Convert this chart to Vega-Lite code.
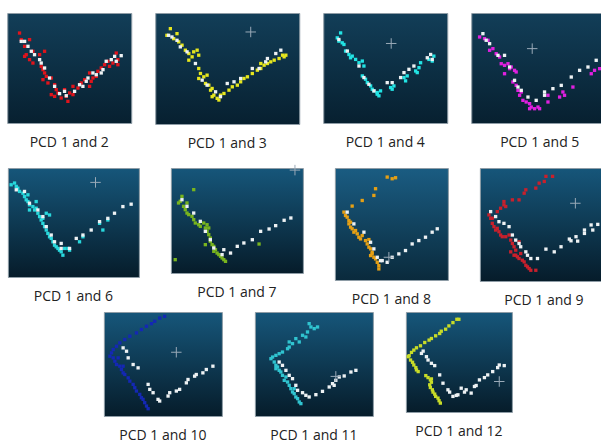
{
"$schema":"https://vega.github.io/schema/vega-lite/v6.json",
"padding":{"left":6,"top":12,"right":0,"bottom":0},
"background":"white",
"config":{"view":{"stroke":"#8e9ca6"},"title":{"orient":"bottom","anchor":"middle","fontSize":14,"font":"Open Sans","fontWeight":"normal","color":"#222222","offset":13}},
"datasets":{
"cr":[{"p":2,"x":66.3,"y":82.9},{"p":3,"x":54.8,"y":72.3},{"p":4,"x":44.5,"y":67.6},{"p":5,"x":66.9,"y":86.8},{"p":6,"x":94,"y":98},{"p":7,"x":47.8,"y":20.3},{"p":8,"x":74.6,"y":68.8},{"p":9,"x":61.4,"y":61.3},{"p":10,"x":68.6,"y":38.1},{"p":11,"x":88.1,"y":30.5}],
"pts":[
{"p":1,"k":"c","x":9.9,"y":81.8},{"p":1,"k":"c","x":11.3,"y":75.8},{"p":1,"k":"c","x":18,"y":75.8},{"p":1,"k":"c","x":14,"y":69.7},{"p":1,"k":"c","x":15.3,"y":62.1},{"p":1,"k":"c","x":14,"y":60.6},{"p":1,"k":"c","x":20.7,"y":65.2},{"p":1,"k":"c","x":30.1,"y":65.2},{"p":1,"k":"c","x":26.1,"y":62.1},{"p":1,"k":"c","x":18,"y":57.6},{"p":1,"k":"c","x":20.7,"y":54.5},{"p":1,"k":"c","x":27.4,"y":51.5},{"p":1,"k":"c","x":28.8,"y":48.5},{"p":1,"k":"c","x":30.1,"y":45.5},{"p":1,"k":"c","x":31.5,"y":42.4},{"p":1,"k":"c","x":28.8,"y":39.4},{"p":1,"k":"c","x":35.5,"y":40.9},{"p":1,"k":"c","x":32.8,"y":36.4},{"p":1,"k":"c","x":38.2,"y":34.8},{"p":1,"k":"c","x":39.5,"y":30.3},{"p":1,"k":"c","x":35.5,"y":25.8},{"p":1,"k":"c","x":38.2,"y":24.2},{"p":1,"k":"c","x":40.9,"y":27.3},{"p":1,"k":"c","x":43.5,"y":22.7},{"p":1,"k":"c","x":47.6,"y":24.2},{"p":1,"k":"c","x":48.9,"y":19.7},{"p":1,"k":"c","x":50.3,"y":27.3},{"p":1,"k":"c","x":53,"y":33.3},{"p":1,"k":"c","x":57,"y":31.8},{"p":1,"k":"c","x":59.7,"y":36.4},{"p":1,"k":"c","x":62.4,"y":39.4},{"p":1,"k":"c","x":66.4,"y":33.3},{"p":1,"k":"c","x":67.7,"y":37.9},{"p":1,"k":"c","x":71.8,"y":42.4},{"p":1,"k":"c","x":73.1,"y":47},{"p":1,"k":"c","x":75.8,"y":50},{"p":1,"k":"c","x":78.5,"y":53},{"p":1,"k":"c","x":82.5,"y":51.5},{"p":1,"k":"c","x":81.2,"y":56.1},{"p":1,"k":"c","x":85.2,"y":54.5},{"p":1,"k":"c","x":87.9,"y":63.6},{"p":1,"k":"c","x":89.2,"y":57.6},{"p":1,"k":"c","x":89.2,"y":53},{"p":1,"k":"c","x":66.4,"y":45.5},{"p":1,"k":"c","x":69.1,"y":40.9},{"p":1,"k":"c","x":53,"y":25.8},{"p":1,"k":"c","x":46.2,"y":30.3},
{"p":1,"k":"w","x":11.3,"y":74.2},{"p":1,"k":"w","x":14,"y":74.2},{"p":1,"k":"w","x":16.7,"y":69.7},{"p":1,"k":"w","x":19.4,"y":65.2},{"p":1,"k":"w","x":22,"y":62.1},{"p":1,"k":"w","x":26.1,"y":57.6},{"p":1,"k":"w","x":27.4,"y":54.5},{"p":1,"k":"w","x":30.1,"y":50},{"p":1,"k":"w","x":34.1,"y":40.9},{"p":1,"k":"w","x":38.2,"y":33.3},{"p":1,"k":"w","x":42.2,"y":26.7},{"p":1,"k":"w","x":46.2,"y":28.8},{"p":1,"k":"w","x":47.6,"y":24.8},{"p":1,"k":"w","x":54.3,"y":28.8},{"p":1,"k":"w","x":58.3,"y":34.8},{"p":1,"k":"w","x":61,"y":33.3},{"p":1,"k":"w","x":63.7,"y":37.9},{"p":1,"k":"w","x":65.1,"y":40.9},{"p":1,"k":"w","x":69.1,"y":45.5},{"p":1,"k":"w","x":71.8,"y":43.9},{"p":1,"k":"w","x":75.8,"y":45.5},{"p":1,"k":"w","x":77.2,"y":48.5},{"p":1,"k":"w","x":79.8,"y":56.1},{"p":1,"k":"w","x":83.9,"y":57.6},{"p":1,"k":"w","x":87.9,"y":56.1},{"p":1,"k":"w","x":91.9,"y":61.2},{"p":1,"k":"w","x":86.6,"y":60.6},
{"p":2,"k":"c","x":10.5,"y":85.9},{"p":2,"k":"c","x":8.1,"y":79.9},{"p":2,"k":"c","x":12.8,"y":76.9},{"p":2,"k":"c","x":15.1,"y":81.4},{"p":2,"k":"c","x":16.3,"y":74},{"p":2,"k":"c","x":18.6,"y":71},{"p":2,"k":"c","x":20.9,"y":66.5},{"p":2,"k":"c","x":23.3,"y":63.5},{"p":2,"k":"c","x":25.6,"y":60.5},{"p":2,"k":"c","x":26.7,"y":65},{"p":2,"k":"c","x":29.1,"y":66.5},{"p":2,"k":"c","x":30.2,"y":62},{"p":2,"k":"c","x":23.3,"y":57.5},{"p":2,"k":"c","x":30.2,"y":50},{"p":2,"k":"c","x":31.4,"y":45.5},{"p":2,"k":"c","x":30.2,"y":41},{"p":2,"k":"c","x":33.7,"y":42.5},{"p":2,"k":"c","x":36,"y":44},{"p":2,"k":"c","x":34.9,"y":36.5},{"p":2,"k":"c","x":37.2,"y":35},{"p":2,"k":"c","x":38.4,"y":30.5},{"p":2,"k":"c","x":39.5,"y":32},{"p":2,"k":"c","x":40.7,"y":26},{"p":2,"k":"c","x":39.5,"y":24.6},{"p":2,"k":"c","x":43,"y":23.1},{"p":2,"k":"c","x":44.2,"y":21.6},{"p":2,"k":"c","x":45.3,"y":26},{"p":2,"k":"c","x":47.7,"y":27.5},{"p":2,"k":"c","x":51.2,"y":30.5},{"p":2,"k":"c","x":53.5,"y":33.5},{"p":2,"k":"c","x":57,"y":35},{"p":2,"k":"c","x":59.3,"y":38},{"p":2,"k":"c","x":61.6,"y":41},{"p":2,"k":"c","x":64,"y":42.5},{"p":2,"k":"c","x":67.4,"y":45.5},{"p":2,"k":"c","x":70.9,"y":48.5},{"p":2,"k":"c","x":73.3,"y":50},{"p":2,"k":"c","x":75.6,"y":53},{"p":2,"k":"c","x":77.9,"y":54.5},{"p":2,"k":"c","x":80.2,"y":56},{"p":2,"k":"c","x":82.6,"y":57.5},{"p":2,"k":"c","x":86,"y":59},{"p":2,"k":"c","x":89.5,"y":60.5},{"p":2,"k":"c","x":90.7,"y":62},{"p":2,"k":"c","x":88.4,"y":62},{"p":2,"k":"c","x":73.3,"y":54.5},
{"p":2,"k":"w","x":9.3,"y":79.9},{"p":2,"k":"w","x":11.6,"y":78.4},{"p":2,"k":"w","x":15.1,"y":75.4},{"p":2,"k":"w","x":17.4,"y":69.5},{"p":2,"k":"w","x":22.1,"y":65},{"p":2,"k":"w","x":27.9,"y":54.5},{"p":2,"k":"w","x":32.6,"y":39.5},{"p":2,"k":"w","x":36,"y":35},{"p":2,"k":"w","x":41.9,"y":29},{"p":2,"k":"w","x":45.3,"y":24.6},{"p":2,"k":"w","x":50,"y":36.5},{"p":2,"k":"w","x":54.7,"y":38},{"p":2,"k":"w","x":59.3,"y":41},{"p":2,"k":"w","x":67.4,"y":50},{"p":2,"k":"w","x":72.1,"y":50},{"p":2,"k":"w","x":76.7,"y":56},{"p":2,"k":"w","x":83.7,"y":63.5},{"p":2,"k":"w","x":87.2,"y":66.5},{"p":2,"k":"w","x":77.9,"y":59},
{"p":3,"k":"c","x":11.3,"y":77.4},{"p":3,"k":"c","x":12.6,"y":74.4},{"p":3,"k":"c","x":15.3,"y":72.9},{"p":3,"k":"c","x":16.7,"y":71.4},{"p":3,"k":"c","x":14,"y":81.9},{"p":3,"k":"c","x":18,"y":65.4},{"p":3,"k":"c","x":20.7,"y":62.3},{"p":3,"k":"c","x":23.4,"y":60.8},{"p":3,"k":"c","x":22,"y":59.3},{"p":3,"k":"c","x":26.1,"y":57.8},{"p":3,"k":"c","x":28.8,"y":54.8},{"p":3,"k":"c","x":31.5,"y":56.3},{"p":3,"k":"c","x":32.8,"y":51.8},{"p":3,"k":"c","x":31.5,"y":42.8},{"p":3,"k":"c","x":34.1,"y":39.8},{"p":3,"k":"c","x":35.5,"y":36.7},{"p":3,"k":"c","x":38.2,"y":33.7},{"p":3,"k":"c","x":39.5,"y":30.7},{"p":3,"k":"c","x":40.9,"y":29.2},{"p":3,"k":"c","x":43.5,"y":27.7},{"p":3,"k":"c","x":44.9,"y":24.7},{"p":3,"k":"c","x":46.2,"y":29.2},{"p":3,"k":"c","x":54.3,"y":32.2},{"p":3,"k":"c","x":57,"y":33.7},{"p":3,"k":"c","x":55.6,"y":30.7},{"p":3,"k":"c","x":65.1,"y":41.3},{"p":3,"k":"c","x":67.7,"y":42.8},{"p":3,"k":"c","x":66.4,"y":38.3},{"p":3,"k":"c","x":74.5,"y":47.3},{"p":3,"k":"c","x":77.2,"y":50.3},{"p":3,"k":"c","x":78.5,"y":54.8},{"p":3,"k":"c","x":75.8,"y":45.8},{"p":3,"k":"c","x":85.2,"y":57.8},{"p":3,"k":"c","x":87.9,"y":56.3},{"p":3,"k":"c","x":89.2,"y":60.8},{"p":3,"k":"c","x":43.5,"y":26.2},
{"p":3,"k":"w","x":12.6,"y":75.9},{"p":3,"k":"w","x":19.4,"y":65.4},{"p":3,"k":"w","x":28.8,"y":51.8},{"p":3,"k":"w","x":32.8,"y":41.3},{"p":3,"k":"w","x":36.8,"y":35.2},{"p":3,"k":"w","x":40.9,"y":29.2},{"p":3,"k":"w","x":51.6,"y":36.7},{"p":3,"k":"w","x":55.6,"y":36.7},{"p":3,"k":"w","x":62.4,"y":41.3},{"p":3,"k":"w","x":65.1,"y":45.8},{"p":3,"k":"w","x":69.1,"y":48.8},{"p":3,"k":"w","x":73.1,"y":51.8},{"p":3,"k":"w","x":83.9,"y":59.3},{"p":3,"k":"w","x":86.6,"y":62.3},{"p":3,"k":"w","x":87.9,"y":57.8},
{"p":4,"k":"c","x":6.1,"y":78.2},{"p":4,"k":"c","x":9.7,"y":76.7},{"p":4,"k":"c","x":12.2,"y":75.2},{"p":4,"k":"c","x":13.4,"y":66.1},{"p":4,"k":"c","x":15.8,"y":67.6},{"p":4,"k":"c","x":18.2,"y":63},{"p":4,"k":"c","x":20.7,"y":60},{"p":4,"k":"c","x":21.9,"y":53.9},{"p":4,"k":"c","x":24.3,"y":52.4},{"p":4,"k":"c","x":26.8,"y":53.9},{"p":4,"k":"c","x":28,"y":49.4},{"p":4,"k":"c","x":29.2,"y":50.9},{"p":4,"k":"c","x":31.6,"y":47.9},{"p":4,"k":"c","x":32.8,"y":46.4},{"p":4,"k":"c","x":24.3,"y":44.8},{"p":4,"k":"c","x":30.4,"y":37.3},{"p":4,"k":"c","x":32.8,"y":34.2},{"p":4,"k":"c","x":34.1,"y":29.7},{"p":4,"k":"c","x":36.5,"y":28.2},{"p":4,"k":"c","x":35.3,"y":25.2},{"p":4,"k":"c","x":37.7,"y":20.6},{"p":4,"k":"c","x":40.1,"y":19.1},{"p":4,"k":"c","x":42.6,"y":17.6},{"p":4,"k":"c","x":43.8,"y":14.5},{"p":4,"k":"c","x":46.2,"y":13},{"p":4,"k":"c","x":48.7,"y":14.5},{"p":4,"k":"c","x":49.9,"y":13},{"p":4,"k":"c","x":42.6,"y":13},{"p":4,"k":"c","x":56,"y":19.1},{"p":4,"k":"c","x":64.5,"y":23.6},{"p":4,"k":"c","x":66.9,"y":28.2},{"p":4,"k":"c","x":68.1,"y":25.2},{"p":4,"k":"c","x":74.2,"y":32.7},{"p":4,"k":"c","x":87.6,"y":44.8},{"p":4,"k":"c","x":90,"y":47.9},{"p":4,"k":"c","x":93.7,"y":49.4},{"p":4,"k":"c","x":98.5,"y":50.9},{"p":4,"k":"c","x":56,"y":25.2},
{"p":4,"k":"w","x":8.5,"y":81.2},{"p":4,"k":"w","x":10.9,"y":75.2},{"p":4,"k":"w","x":13.4,"y":72.1},{"p":4,"k":"w","x":19.5,"y":61.5},{"p":4,"k":"w","x":24.3,"y":61.5},{"p":4,"k":"w","x":28,"y":50.9},{"p":4,"k":"w","x":31.6,"y":38.8},{"p":4,"k":"w","x":34.1,"y":32.7},{"p":4,"k":"w","x":36.5,"y":29.7},{"p":4,"k":"w","x":41.4,"y":23.6},{"p":4,"k":"w","x":47.4,"y":20.6},{"p":4,"k":"w","x":53.5,"y":28.2},{"p":4,"k":"w","x":59.6,"y":31.2},{"p":4,"k":"w","x":65.7,"y":34.2},{"p":4,"k":"w","x":73,"y":41.8},{"p":4,"k":"w","x":79.1,"y":47.9},{"p":4,"k":"w","x":85.2,"y":50.9},{"p":4,"k":"w","x":91.2,"y":57},{"p":4,"k":"w","x":97.3,"y":61.5},{"p":4,"k":"w","x":53.5,"y":25.2},
{"p":5,"k":"c","x":2.5,"y":84.6},{"p":5,"k":"c","x":5.1,"y":86.2},{"p":5,"k":"c","x":6.4,"y":83.1},{"p":5,"k":"c","x":7.6,"y":81.5},{"p":5,"k":"c","x":8.9,"y":78.5},{"p":5,"k":"c","x":11.5,"y":76.9},{"p":5,"k":"c","x":12.7,"y":73.8},{"p":5,"k":"c","x":14,"y":70.8},{"p":5,"k":"c","x":15.3,"y":69.2},{"p":5,"k":"c","x":16.5,"y":66.2},{"p":5,"k":"c","x":19.1,"y":64.6},{"p":5,"k":"c","x":20.4,"y":61.5},{"p":5,"k":"c","x":21.6,"y":63.1},{"p":5,"k":"c","x":16.5,"y":61.5},{"p":5,"k":"c","x":22.9,"y":58.5},{"p":5,"k":"c","x":24.2,"y":55.4},{"p":5,"k":"c","x":25.4,"y":52.3},{"p":5,"k":"c","x":26.7,"y":49.2},{"p":5,"k":"c","x":28,"y":46.2},{"p":5,"k":"c","x":29.3,"y":43.1},{"p":5,"k":"c","x":30.5,"y":40},{"p":5,"k":"c","x":31.8,"y":36.9},{"p":5,"k":"c","x":33.1,"y":35.4},{"p":5,"k":"c","x":34.4,"y":32.3},{"p":5,"k":"c","x":35.6,"y":29.2},{"p":5,"k":"c","x":36.9,"y":27.7},{"p":5,"k":"c","x":38.2,"y":26.2},{"p":5,"k":"c","x":39.4,"y":24.6},{"p":5,"k":"c","x":40.7,"y":23.1},{"p":5,"k":"c","x":42,"y":20},{"p":5,"k":"c","x":43.3,"y":26.2},{"p":5,"k":"c","x":45.8,"y":26.2},{"p":5,"k":"c","x":29.3,"y":58.5},{"p":5,"k":"c","x":31.8,"y":56.9},{"p":5,"k":"c","x":26.7,"y":53.8},{"p":5,"k":"c","x":54.7,"y":32.3},{"p":5,"k":"c","x":57.3,"y":36.9},{"p":5,"k":"c","x":72.5,"y":43.1},{"p":5,"k":"c","x":76.3,"y":52.3},{"p":5,"k":"c","x":70,"y":49.2},{"p":5,"k":"c","x":21.6,"y":69.2},{"p":5,"k":"c","x":15.3,"y":75.4},{"p":5,"k":"c","x":47.1,"y":24.6},
{"p":5,"k":"w","x":6.4,"y":80},{"p":5,"k":"w","x":12.7,"y":78.5},{"p":5,"k":"w","x":16.5,"y":67.7},{"p":5,"k":"w","x":22.9,"y":61.5},{"p":5,"k":"w","x":26.7,"y":55.4},{"p":5,"k":"w","x":29.3,"y":46.2},{"p":5,"k":"w","x":33.1,"y":38.5},{"p":5,"k":"w","x":35.6,"y":32.3},{"p":5,"k":"w","x":40.7,"y":30.8},{"p":5,"k":"w","x":47.1,"y":26.2},{"p":5,"k":"w","x":52.2,"y":35.4},{"p":5,"k":"w","x":57.3,"y":38.5},{"p":5,"k":"w","x":63.6,"y":43.1},{"p":5,"k":"w","x":70,"y":50.8},{"p":5,"k":"w","x":76.3,"y":53.8},{"p":5,"k":"w","x":81.4,"y":58.5},{"p":5,"k":"w","x":87.8,"y":64.6},{"p":5,"k":"w","x":94.1,"y":66.8},{"p":5,"k":"w","x":40.7,"y":26.2},
{"p":6,"k":"c","x":8.4,"y":73},{"p":6,"k":"c","x":7.1,"y":68.3},{"p":6,"k":"c","x":5.8,"y":66.7},{"p":6,"k":"c","x":9.6,"y":63.5},{"p":6,"k":"c","x":10.9,"y":60.3},{"p":6,"k":"c","x":12.2,"y":57.1},{"p":6,"k":"c","x":13.5,"y":55.6},{"p":6,"k":"c","x":16,"y":54},{"p":6,"k":"c","x":17.3,"y":50.8},{"p":6,"k":"c","x":18.5,"y":47.6},{"p":6,"k":"c","x":21.1,"y":46},{"p":6,"k":"c","x":22.3,"y":44.4},{"p":6,"k":"c","x":24.9,"y":47.6},{"p":6,"k":"c","x":26.1,"y":42.9},{"p":6,"k":"c","x":27.4,"y":39.7},{"p":6,"k":"c","x":28.7,"y":36.5},{"p":6,"k":"c","x":29.9,"y":33.3},{"p":6,"k":"c","x":29.9,"y":30.2},{"p":6,"k":"c","x":31.2,"y":27},{"p":6,"k":"c","x":32.5,"y":25.4},{"p":6,"k":"c","x":33.8,"y":22.2},{"p":6,"k":"c","x":35,"y":19},{"p":6,"k":"c","x":36.3,"y":17.5},{"p":6,"k":"c","x":37.6,"y":15.9},{"p":6,"k":"c","x":38.8,"y":14.3},{"p":6,"k":"c","x":40.1,"y":12.7},{"p":6,"k":"c","x":41.4,"y":11.1},{"p":6,"k":"c","x":27.4,"y":46},{"p":6,"k":"c","x":28.7,"y":42.9},{"p":6,"k":"c","x":12.2,"y":66.7},{"p":6,"k":"c","x":17.3,"y":79.4},{"p":6,"k":"c","x":3.3,"y":12.7},{"p":6,"k":"c","x":66.8,"y":27.6},{"p":6,"k":"c","x":26.1,"y":27},{"p":6,"k":"c","x":32.5,"y":20.6},
{"p":6,"k":"w","x":8.4,"y":69.8},{"p":6,"k":"w","x":12.2,"y":63.5},{"p":6,"k":"w","x":17.3,"y":57.1},{"p":6,"k":"w","x":22.3,"y":49.2},{"p":6,"k":"w","x":26.1,"y":39.7},{"p":6,"k":"w","x":29.9,"y":31.7},{"p":6,"k":"w","x":32.5,"y":23.8},{"p":6,"k":"w","x":40.1,"y":22.2},{"p":6,"k":"w","x":45.2,"y":19},{"p":6,"k":"w","x":50.3,"y":25.4},{"p":6,"k":"w","x":55.3,"y":28.6},{"p":6,"k":"w","x":61.7,"y":31.7},{"p":6,"k":"w","x":68,"y":39.7},{"p":6,"k":"w","x":74.4,"y":41.9},{"p":6,"k":"w","x":79.4,"y":45.1},{"p":6,"k":"w","x":85.8,"y":50.2},{"p":6,"k":"w","x":90.9,"y":52.4},{"p":6,"k":"w","x":38.8,"y":17.5},
{"p":7,"k":"c","x":8,"y":60.6},{"p":7,"k":"c","x":9.4,"y":57.6},{"p":7,"k":"c","x":10.9,"y":56.1},{"p":7,"k":"c","x":12.4,"y":53.1},{"p":7,"k":"c","x":12.4,"y":50.1},{"p":7,"k":"c","x":13.9,"y":47.2},{"p":7,"k":"c","x":15.3,"y":45.7},{"p":7,"k":"c","x":16.8,"y":42.7},{"p":7,"k":"c","x":18.3,"y":44.2},{"p":7,"k":"c","x":19.8,"y":41.2},{"p":7,"k":"c","x":21.2,"y":38.2},{"p":7,"k":"c","x":22.7,"y":36.7},{"p":7,"k":"c","x":27.1,"y":35.2},{"p":7,"k":"c","x":28.6,"y":32.2},{"p":7,"k":"c","x":30.1,"y":29.3},{"p":7,"k":"c","x":31.6,"y":27.8},{"p":7,"k":"c","x":33,"y":24.8},{"p":7,"k":"c","x":31.6,"y":21.8},{"p":7,"k":"c","x":34.5,"y":20.3},{"p":7,"k":"c","x":36,"y":18.8},{"p":7,"k":"c","x":37.5,"y":15.8},{"p":7,"k":"c","x":38.9,"y":12.8},{"p":7,"k":"c","x":38.9,"y":9.9},{"p":7,"k":"c","x":13.9,"y":51.6},{"p":7,"k":"c","x":24.2,"y":39.7},{"p":7,"k":"c","x":30.1,"y":36.1},{"p":7,"k":"c","x":33,"y":23.3},{"p":7,"k":"c","x":46.3,"y":91.9},{"p":7,"k":"c","x":50.7,"y":90.4},{"p":7,"k":"c","x":53.7,"y":91.3},{"p":7,"k":"c","x":36,"y":81.5},{"p":7,"k":"c","x":34.5,"y":75.5},{"p":7,"k":"c","x":24.2,"y":71},{"p":7,"k":"c","x":15.3,"y":66},
{"p":7,"k":"w","x":10.9,"y":60.6},{"p":7,"k":"w","x":16.8,"y":50.1},{"p":7,"k":"w","x":25.7,"y":42.7},{"p":7,"k":"w","x":31.6,"y":33.7},{"p":7,"k":"w","x":34.5,"y":27.8},{"p":7,"k":"w","x":37.5,"y":20.3},{"p":7,"k":"w","x":41.9,"y":17.3},{"p":7,"k":"w","x":46.3,"y":15.8},{"p":7,"k":"w","x":50.7,"y":20.3},{"p":7,"k":"w","x":56.6,"y":23.3},{"p":7,"k":"w","x":62.5,"y":26.3},{"p":7,"k":"w","x":68.4,"y":32.2},{"p":7,"k":"w","x":74.3,"y":35.2},{"p":7,"k":"w","x":80.2,"y":38.2},{"p":7,"k":"w","x":86.1,"y":42.7},{"p":7,"k":"w","x":90.6,"y":45.7},{"p":7,"k":"w","x":40.4,"y":17.3},
{"p":8,"k":"c","x":7.1,"y":58.5},{"p":8,"k":"c","x":8.4,"y":55.5},{"p":8,"k":"c","x":9.7,"y":51},{"p":8,"k":"c","x":11,"y":48.1},{"p":8,"k":"c","x":12.3,"y":45.1},{"p":8,"k":"c","x":14.9,"y":43.6},{"p":8,"k":"c","x":16.2,"y":40.7},{"p":8,"k":"c","x":17.5,"y":39.2},{"p":8,"k":"c","x":20.2,"y":39.2},{"p":8,"k":"c","x":22.8,"y":40.7},{"p":8,"k":"c","x":24.1,"y":36.2},{"p":8,"k":"c","x":25.4,"y":33.2},{"p":8,"k":"c","x":26.7,"y":30.3},{"p":8,"k":"c","x":28,"y":27.3},{"p":8,"k":"c","x":28,"y":22.8},{"p":8,"k":"c","x":29.3,"y":21.4},{"p":8,"k":"c","x":30.6,"y":19.9},{"p":8,"k":"c","x":33.2,"y":18.4},{"p":8,"k":"c","x":34.6,"y":16.9},{"p":8,"k":"c","x":35.9,"y":13.9},{"p":8,"k":"c","x":37.2,"y":12.5},{"p":8,"k":"c","x":38.5,"y":11},{"p":8,"k":"c","x":39.8,"y":9.5},{"p":8,"k":"c","x":43.7,"y":9.5},{"p":8,"k":"c","x":31.9,"y":24.3},{"p":8,"k":"c","x":24.1,"y":25.8},{"p":8,"k":"c","x":26.7,"y":22.8},{"p":8,"k":"c","x":30.6,"y":34.7},{"p":8,"k":"c","x":9.7,"y":55.5},{"p":8,"k":"c","x":13.6,"y":46.6},{"p":8,"k":"c","x":13.6,"y":61.4},{"p":8,"k":"c","x":16.2,"y":64.4},{"p":8,"k":"c","x":18.8,"y":70.3},{"p":8,"k":"c","x":20.2,"y":65.9},{"p":8,"k":"c","x":25.4,"y":71.8},{"p":8,"k":"c","x":30.6,"y":71.8},{"p":8,"k":"c","x":34.6,"y":77.7},{"p":8,"k":"c","x":35.9,"y":80.7},{"p":8,"k":"c","x":43.7,"y":82.2},{"p":8,"k":"c","x":46.3,"y":86.6},{"p":8,"k":"c","x":50.3,"y":88.1},{"p":8,"k":"c","x":51.6,"y":92.6},{"p":8,"k":"c","x":56.8,"y":92.6},{"p":8,"k":"c","x":18.8,"y":67.4},
{"p":8,"k":"w","x":8.4,"y":61.4},{"p":8,"k":"w","x":12.3,"y":57},{"p":8,"k":"w","x":14.9,"y":52.5},{"p":8,"k":"w","x":18.8,"y":51},{"p":8,"k":"w","x":22.8,"y":48.1},{"p":8,"k":"w","x":25.4,"y":40.7},{"p":8,"k":"w","x":28,"y":36.2},{"p":8,"k":"w","x":30.6,"y":33.2},{"p":8,"k":"w","x":31.9,"y":30.3},{"p":8,"k":"w","x":35.9,"y":25.8},{"p":8,"k":"w","x":37.2,"y":22.8},{"p":8,"k":"w","x":39.8,"y":19.9},{"p":8,"k":"w","x":45,"y":19.9},{"p":8,"k":"w","x":51.6,"y":28.2},{"p":8,"k":"w","x":58.1,"y":25.8},{"p":8,"k":"w","x":63.4,"y":30.3},{"p":8,"k":"w","x":69.9,"y":37.1},{"p":8,"k":"w","x":75.1,"y":39.2},{"p":8,"k":"w","x":81.7,"y":45.1},{"p":8,"k":"w","x":86.9,"y":49.6},{"p":8,"k":"w","x":92.1,"y":50.1},{"p":8,"k":"w","x":71.2,"y":35.6},{"p":8,"k":"w","x":76.4,"y":35.3},{"p":8,"k":"w","x":81.7,"y":42.1},{"p":8,"k":"w","x":88.2,"y":45.1},
{"p":9,"k":"c","x":51.5,"y":95.8},{"p":9,"k":"c","x":47.3,"y":94.2},{"p":9,"k":"c","x":43.1,"y":91.1},{"p":9,"k":"c","x":40.3,"y":88.8},{"p":9,"k":"c","x":36.1,"y":86.3},{"p":9,"k":"c","x":31.8,"y":83.1},{"p":9,"k":"c","x":27.6,"y":79.9},{"p":9,"k":"c","x":22,"y":76.7},{"p":9,"k":"c","x":17.7,"y":73.5},{"p":9,"k":"c","x":13.5,"y":70.3},{"p":9,"k":"c","x":10.7,"y":67.1},{"p":9,"k":"c","x":7.9,"y":63.9},{"p":9,"k":"c","x":6.5,"y":60.7},{"p":9,"k":"c","x":5.1,"y":57.5},{"p":9,"k":"c","x":7.9,"y":55.9},{"p":9,"k":"c","x":9.3,"y":52.7},{"p":9,"k":"c","x":10.7,"y":49.5},{"p":9,"k":"c","x":13.5,"y":47.9},{"p":9,"k":"c","x":14.9,"y":44.7},{"p":9,"k":"c","x":16.3,"y":41.5},{"p":9,"k":"c","x":17.7,"y":39.9},{"p":9,"k":"c","x":20.6,"y":36.7},{"p":9,"k":"c","x":22,"y":33.5},{"p":9,"k":"c","x":24.8,"y":30.4},{"p":9,"k":"c","x":26.2,"y":27.2},{"p":9,"k":"c","x":27.6,"y":24},{"p":9,"k":"c","x":30.4,"y":20.8},{"p":9,"k":"c","x":31.8,"y":17.6},{"p":9,"k":"c","x":33.2,"y":16},{"p":9,"k":"c","x":34.6,"y":12.8},{"p":9,"k":"c","x":36.1,"y":9.6},{"p":9,"k":"c","x":37.5,"y":7},{"p":9,"k":"c","x":12.1,"y":55.9},{"p":9,"k":"c","x":16.3,"y":47.9},
{"p":9,"k":"w","x":16.3,"y":65.5},{"p":9,"k":"w","x":19.2,"y":62.3},{"p":9,"k":"w","x":20.6,"y":55.9},{"p":9,"k":"w","x":24.8,"y":49.5},{"p":9,"k":"w","x":29,"y":46.3},{"p":9,"k":"w","x":37.5,"y":30.4},{"p":9,"k":"w","x":38.9,"y":25.6},{"p":9,"k":"w","x":41.7,"y":22.4},{"p":9,"k":"w","x":45.9,"y":16},{"p":9,"k":"w","x":47.3,"y":14.4},{"p":9,"k":"w","x":54.4,"y":19.2},{"p":9,"k":"w","x":55.8,"y":22.4},{"p":9,"k":"w","x":61.4,"y":24},{"p":9,"k":"w","x":64.2,"y":25.6},{"p":9,"k":"w","x":69.9,"y":31.9},{"p":9,"k":"w","x":71.3,"y":35.1},{"p":9,"k":"w","x":76.9,"y":38.3},{"p":9,"k":"w","x":78.3,"y":39.9},{"p":9,"k":"w","x":83.9,"y":41.5},{"p":9,"k":"w","x":86.8,"y":44.7},{"p":9,"k":"w","x":92.4,"y":47.9},
{"p":10,"k":"c","x":46,"y":88.8},{"p":10,"k":"c","x":47.5,"y":85.6},{"p":10,"k":"c","x":50.3,"y":84},{"p":10,"k":"c","x":53.1,"y":85.6},{"p":10,"k":"c","x":44.6,"y":80.8},{"p":10,"k":"c","x":40.4,"y":77.6},{"p":10,"k":"c","x":43.2,"y":76},{"p":10,"k":"c","x":34.7,"y":74.4},{"p":10,"k":"c","x":37.6,"y":71.2},{"p":10,"k":"c","x":31.9,"y":69.6},{"p":10,"k":"c","x":29.1,"y":66.3},{"p":10,"k":"c","x":27.7,"y":64.7},{"p":10,"k":"c","x":23.4,"y":61.5},{"p":10,"k":"c","x":20.6,"y":59.9},{"p":10,"k":"c","x":17.8,"y":58.3},{"p":10,"k":"c","x":15,"y":56.7},{"p":10,"k":"c","x":13.6,"y":55.1},{"p":10,"k":"c","x":29.1,"y":71.2},{"p":10,"k":"c","x":16.4,"y":51.9},{"p":10,"k":"c","x":17.8,"y":48.7},{"p":10,"k":"c","x":19.2,"y":47.1},{"p":10,"k":"c","x":17.8,"y":45.5},{"p":10,"k":"c","x":22,"y":42.3},{"p":10,"k":"c","x":23.4,"y":39.1},{"p":10,"k":"c","x":26.3,"y":37.5},{"p":10,"k":"c","x":24.9,"y":34.3},{"p":10,"k":"c","x":27.7,"y":32.7},{"p":10,"k":"c","x":29.1,"y":29.5},{"p":10,"k":"c","x":30.5,"y":26.3},{"p":10,"k":"c","x":31.9,"y":23.1},{"p":10,"k":"c","x":33.3,"y":21.5},{"p":10,"k":"c","x":34.7,"y":18.3},{"p":10,"k":"c","x":36.2,"y":16.7},{"p":10,"k":"c","x":37.6,"y":13.5},{"p":10,"k":"c","x":39,"y":11.9},{"p":10,"k":"c","x":33.3,"y":26.3},{"p":10,"k":"c","x":20.6,"y":43.9},
{"p":10,"k":"w","x":20.6,"y":51.9},{"p":10,"k":"w","x":23.4,"y":48.7},{"p":10,"k":"w","x":26.3,"y":43.9},{"p":10,"k":"w","x":29.1,"y":39.1},{"p":10,"k":"w","x":31.9,"y":35.9},{"p":10,"k":"w","x":34.7,"y":29.5},{"p":10,"k":"w","x":36.2,"y":24.7},{"p":10,"k":"w","x":40.4,"y":22.4},{"p":10,"k":"w","x":43.2,"y":19.9},{"p":10,"k":"w","x":46,"y":18.3},{"p":10,"k":"w","x":51.7,"y":20.5},{"p":10,"k":"w","x":57.3,"y":23.7},{"p":10,"k":"w","x":63,"y":27.9},{"p":10,"k":"w","x":65.8,"y":31.1},{"p":10,"k":"w","x":68.6,"y":34.3},{"p":10,"k":"w","x":71.5,"y":37.5},{"p":10,"k":"w","x":75.7,"y":38.5},{"p":10,"k":"w","x":81.4,"y":42.3},{"p":10,"k":"w","x":85.6,"y":43.9},{"p":10,"k":"w","x":67.2,"y":29.5},
{"p":11,"k":"c","x":50,"y":92.7},{"p":11,"k":"c","x":48.1,"y":92.7},{"p":11,"k":"c","x":44.4,"y":89.4},{"p":11,"k":"c","x":40.6,"y":86.1},{"p":11,"k":"c","x":37.5,"y":82.8},{"p":11,"k":"c","x":33.4,"y":80.8},{"p":11,"k":"c","x":31.9,"y":78.5},{"p":11,"k":"c","x":28.1,"y":76.2},{"p":11,"k":"c","x":24.1,"y":73.5},{"p":11,"k":"c","x":21.9,"y":71.9},{"p":11,"k":"c","x":17.8,"y":69.5},{"p":11,"k":"c","x":13.8,"y":66.2},{"p":11,"k":"c","x":10,"y":64.2},{"p":11,"k":"c","x":7.5,"y":61.9},{"p":11,"k":"c","x":5.3,"y":59.6},{"p":11,"k":"c","x":3.1,"y":56.3},{"p":11,"k":"c","x":2.2,"y":55.3},{"p":11,"k":"c","x":4.4,"y":52},{"p":11,"k":"c","x":6.3,"y":49.7},{"p":11,"k":"c","x":7.5,"y":47},{"p":11,"k":"c","x":9.4,"y":44.4},{"p":11,"k":"c","x":10,"y":42.1},{"p":11,"k":"c","x":11.6,"y":40.4},{"p":11,"k":"c","x":18.8,"y":36.4},{"p":11,"k":"c","x":20.9,"y":34.4},{"p":11,"k":"c","x":23.1,"y":32.1},{"p":11,"k":"c","x":24.1,"y":29.8},{"p":11,"k":"c","x":22.5,"y":27.2},{"p":11,"k":"c","x":23.1,"y":24.5},{"p":11,"k":"c","x":25,"y":22.2},{"p":11,"k":"c","x":25.6,"y":19.9},{"p":11,"k":"c","x":27.2,"y":17.9},{"p":11,"k":"c","x":28.1,"y":15.6},{"p":11,"k":"c","x":30.3,"y":13.9},{"p":11,"k":"c","x":31.3,"y":11.3},{"p":11,"k":"c","x":32.5,"y":8.9},{"p":11,"k":"c","x":24.1,"y":33.1},
{"p":11,"k":"w","x":16.3,"y":60.9},{"p":11,"k":"w","x":14.7,"y":58.6},{"p":11,"k":"w","x":19.4,"y":55.3},{"p":11,"k":"w","x":20.9,"y":52},{"p":11,"k":"w","x":24.1,"y":48.7},{"p":11,"k":"w","x":27.2,"y":46.4},{"p":11,"k":"w","x":31.9,"y":37.1},{"p":11,"k":"w","x":35,"y":28.8},{"p":11,"k":"w","x":39.7,"y":22.2},{"p":11,"k":"w","x":41.3,"y":19.9},{"p":11,"k":"w","x":44.4,"y":15.6},{"p":11,"k":"w","x":47.5,"y":16.6},{"p":11,"k":"w","x":49.1,"y":17.2},{"p":11,"k":"w","x":55.3,"y":19.9},{"p":11,"k":"w","x":56.9,"y":22.2},{"p":11,"k":"w","x":61.6,"y":18.9},{"p":11,"k":"w","x":64.7,"y":25.5},{"p":11,"k":"w","x":69.4,"y":32.1},{"p":11,"k":"w","x":74.1,"y":34.4},{"p":11,"k":"w","x":77.2,"y":37.1},{"p":11,"k":"w","x":81.9,"y":40.4},{"p":11,"k":"w","x":86.6,"y":44.4},{"p":11,"k":"w","x":88.1,"y":47},{"p":11,"k":"w","x":92.8,"y":46.4},{"p":11,"k":"w","x":66.3,"y":26.5},{"p":11,"k":"w","x":52.2,"y":23.8}
]},
"vconcat":[
{"hconcat":[
{"width":124,"height":110,"title":"PCD 1 and 2","view":{"fill":{"gradient":"linear","x1":0,"y1":0,"x2":0,"y2":1,"stops":[{"offset":0,"color":"#123e58"},{"offset":1,"color":"#072030"}]},"stroke":"#8e9ca6"},"encoding":{"x":{"field":"x","type":"quantitative","scale":{"domain":[0,100]},"axis":null},"y":{"field":"y","type":"quantitative","scale":{"domain":[0,100]},"axis":null}},"layer":[
{"data":{"name":"pts"},"transform":[{"filter":"datum.p==1&&datum.k=='c'"}],"mark":{"type":"point","shape":"square","filled":true,"size":11,"opacity":1,"color":"#e0141c"}},
{"data":{"name":"pts"},"transform":[{"filter":"datum.p==1&&datum.k=='w'"}],"mark":{"type":"point","shape":"square","filled":true,"size":11,"opacity":1,"color":"#eef2f4"}}]},
{"width":144,"height":111,"title":"PCD 1 and 3","view":{"fill":{"gradient":"linear","x1":0,"y1":0,"x2":0,"y2":1,"stops":[{"offset":0,"color":"#123e58"},{"offset":1,"color":"#072030"}]},"stroke":"#8e9ca6"},"encoding":{"x":{"field":"x","type":"quantitative","scale":{"domain":[0,100]},"axis":null},"y":{"field":"y","type":"quantitative","scale":{"domain":[0,100]},"axis":null}},"layer":[
{"data":{"name":"pts"},"transform":[{"filter":"datum.p==2&&datum.k=='c'"}],"mark":{"type":"point","shape":"square","filled":true,"size":11,"opacity":1,"color":"#e6e61e"}},
{"data":{"name":"pts"},"transform":[{"filter":"datum.p==2&&datum.k=='w'"}],"mark":{"type":"point","shape":"square","filled":true,"size":11,"opacity":1,"color":"#eef2f4"}},
{"data":{"name":"cr"},"transform":[{"filter":"datum.p==2"}],"mark":{"type":"point","shape":"M-1,0H1M0,-1V1","filled":false,"size":110,"strokeWidth":1,"opacity":1,"color":"#9aaab8"}}]},
{"width":124,"height":110,"title":"PCD 1 and 4","view":{"fill":{"gradient":"linear","x1":0,"y1":0,"x2":0,"y2":1,"stops":[{"offset":0,"color":"#123e58"},{"offset":1,"color":"#072030"}]},"stroke":"#8e9ca6"},"encoding":{"x":{"field":"x","type":"quantitative","scale":{"domain":[0,100]},"axis":null},"y":{"field":"y","type":"quantitative","scale":{"domain":[0,100]},"axis":null}},"layer":[
{"data":{"name":"pts"},"transform":[{"filter":"datum.p==3&&datum.k=='c'"}],"mark":{"type":"point","shape":"square","filled":true,"size":11,"opacity":1,"color":"#22e4e4"}},
{"data":{"name":"pts"},"transform":[{"filter":"datum.p==3&&datum.k=='w'"}],"mark":{"type":"point","shape":"square","filled":true,"size":11,"opacity":1,"color":"#eef2f4"}},
{"data":{"name":"cr"},"transform":[{"filter":"datum.p==3"}],"mark":{"type":"point","shape":"M-1,0H1M0,-1V1","filled":false,"size":110,"strokeWidth":1,"opacity":1,"color":"#9aaab8"}}]},
{"width":137,"height":110,"title":"PCD 1 and 5","view":{"fill":{"gradient":"linear","x1":0,"y1":0,"x2":0,"y2":1,"stops":[{"offset":0,"color":"#123e58"},{"offset":1,"color":"#072030"}]},"stroke":"#8e9ca6"},"encoding":{"x":{"field":"x","type":"quantitative","scale":{"domain":[0,100]},"axis":null},"y":{"field":"y","type":"quantitative","scale":{"domain":[0,100]},"axis":null}},"layer":[
{"data":{"name":"pts"},"transform":[{"filter":"datum.p==4&&datum.k=='c'"}],"mark":{"type":"point","shape":"square","filled":true,"size":11,"opacity":1,"color":"#e020e0"}},
{"data":{"name":"pts"},"transform":[{"filter":"datum.p==4&&datum.k=='w'"}],"mark":{"type":"point","shape":"square","filled":true,"size":11,"opacity":1,"color":"#eef2f4"}},
{"data":{"name":"cr"},"transform":[{"filter":"datum.p==4"}],"mark":{"type":"point","shape":"M-1,0H1M0,-1V1","filled":false,"size":110,"strokeWidth":1,"opacity":1,"color":"#9aaab8"}}]}
],"spacing":22},
{"vconcat":[
{"hconcat":[
{"width":131,"height":109,"title":"PCD 1 and 6","view":{"fill":{"gradient":"linear","x1":0,"y1":0,"x2":0,"y2":1,"stops":[{"offset":0,"color":"#16567a"},{"offset":1,"color":"#061c2a"}]},"stroke":"#8e9ca6"},"encoding":{"x":{"field":"x","type":"quantitative","scale":{"domain":[0,100]},"axis":null},"y":{"field":"y","type":"quantitative","scale":{"domain":[0,100]},"axis":null}},"layer":[
{"data":{"name":"pts"},"transform":[{"filter":"datum.p==5&&datum.k=='c'"}],"mark":{"type":"point","shape":"square","filled":true,"size":11,"opacity":1,"color":"#28d8dc"}},
{"data":{"name":"pts"},"transform":[{"filter":"datum.p==5&&datum.k=='w'"}],"mark":{"type":"point","shape":"square","filled":true,"size":11,"opacity":1,"color":"#eef2f4"}},
{"data":{"name":"cr"},"transform":[{"filter":"datum.p==5"}],"mark":{"type":"point","shape":"M-1,0H1M0,-1V1","filled":false,"size":110,"strokeWidth":1,"opacity":1,"color":"#9aaab8"}}]},
{"width":132,"height":105,"title":"PCD 1 and 7","view":{"fill":{"gradient":"linear","x1":0,"y1":0,"x2":0,"y2":1,"stops":[{"offset":0,"color":"#16567a"},{"offset":1,"color":"#061c2a"}]},"stroke":"#8e9ca6"},"encoding":{"x":{"field":"x","type":"quantitative","scale":{"domain":[0,100]},"axis":null},"y":{"field":"y","type":"quantitative","scale":{"domain":[0,100]},"axis":null}},"layer":[
{"data":{"name":"pts"},"transform":[{"filter":"datum.p==6&&datum.k=='c'"}],"mark":{"type":"point","shape":"square","filled":true,"size":11,"opacity":1,"color":"#78b41e"}},
{"data":{"name":"pts"},"transform":[{"filter":"datum.p==6&&datum.k=='w'"}],"mark":{"type":"point","shape":"square","filled":true,"size":11,"opacity":1,"color":"#eef2f4"}},
{"data":{"name":"cr"},"transform":[{"filter":"datum.p==6"}],"mark":{"type":"point","shape":"M-1,0H1M0,-1V1","filled":false,"size":110,"strokeWidth":1,"opacity":1,"color":"#9aaab8"}}]},
{"width":113,"height":112,"title":"PCD 1 and 8","view":{"fill":{"gradient":"linear","x1":0,"y1":0,"x2":0,"y2":1,"stops":[{"offset":0,"color":"#1a5c82"},{"offset":1,"color":"#0a2a3c"}]},"stroke":"#8e9ca6"},"encoding":{"x":{"field":"x","type":"quantitative","scale":{"domain":[0,100]},"axis":null},"y":{"field":"y","type":"quantitative","scale":{"domain":[0,100]},"axis":null}},"layer":[
{"data":{"name":"pts"},"transform":[{"filter":"datum.p==7&&datum.k=='c'"}],"mark":{"type":"point","shape":"square","filled":true,"size":11,"opacity":1,"color":"#e6a014"}},
{"data":{"name":"pts"},"transform":[{"filter":"datum.p==7&&datum.k=='w'"}],"mark":{"type":"point","shape":"square","filled":true,"size":11,"opacity":1,"color":"#eef2f4"}},
{"data":{"name":"cr"},"transform":[{"filter":"datum.p==7"}],"mark":{"type":"point","shape":"M-1,0H1M0,-1V1","filled":false,"size":110,"strokeWidth":1,"opacity":1,"color":"#9aaab8"}}]},
{"width":128,"height":113,"title":"PCD 1 and 9","view":{"fill":{"gradient":"linear","x1":0,"y1":0,"x2":0,"y2":1,"stops":[{"offset":0,"color":"#16567a"},{"offset":1,"color":"#061c2a"}]},"stroke":"#8e9ca6"},"encoding":{"x":{"field":"x","type":"quantitative","scale":{"domain":[0,100]},"axis":null},"y":{"field":"y","type":"quantitative","scale":{"domain":[0,100]},"axis":null}},"layer":[
{"data":{"name":"pts"},"transform":[{"filter":"datum.p==8&&datum.k=='c'"}],"mark":{"type":"point","shape":"square","filled":true,"size":11,"opacity":1,"color":"#c8202c"}},
{"data":{"name":"pts"},"transform":[{"filter":"datum.p==8&&datum.k=='w'"}],"mark":{"type":"point","shape":"square","filled":true,"size":11,"opacity":1,"color":"#eef2f4"}},
{"data":{"name":"cr"},"transform":[{"filter":"datum.p==8"}],"mark":{"type":"point","shape":"M-1,0H1M0,-1V1","filled":false,"size":110,"strokeWidth":1,"opacity":1,"color":"#9aaab8"}}]}
],"spacing":30},
{"hconcat":[
{"width":118,"height":104,"title":"PCD 1 and 10","view":{"fill":{"gradient":"linear","x1":0,"y1":0,"x2":0,"y2":1,"stops":[{"offset":0,"color":"#16567a"},{"offset":1,"color":"#061c2a"}]},"stroke":"#8e9ca6"},"encoding":{"x":{"field":"x","type":"quantitative","scale":{"domain":[0,100]},"axis":null},"y":{"field":"y","type":"quantitative","scale":{"domain":[0,100]},"axis":null}},"layer":[
{"data":{"name":"pts"},"transform":[{"filter":"datum.p==9&&datum.k=='c'"}],"mark":{"type":"point","shape":"square","filled":true,"size":11,"opacity":1,"color":"#1428b4"}},
{"data":{"name":"pts"},"transform":[{"filter":"datum.p==9&&datum.k=='w'"}],"mark":{"type":"point","shape":"square","filled":true,"size":11,"opacity":1,"color":"#eef2f4"}},
{"data":{"name":"cr"},"transform":[{"filter":"datum.p==9"}],"mark":{"type":"point","shape":"M-1,0H1M0,-1V1","filled":false,"size":110,"strokeWidth":1,"opacity":1,"color":"#9aaab8"}}]},
{"width":118,"height":104,"title":"PCD 1 and 11","view":{"fill":{"gradient":"linear","x1":0,"y1":0,"x2":0,"y2":1,"stops":[{"offset":0,"color":"#16567a"},{"offset":1,"color":"#061c2a"}]},"stroke":"#8e9ca6"},"encoding":{"x":{"field":"x","type":"quantitative","scale":{"domain":[0,100]},"axis":null},"y":{"field":"y","type":"quantitative","scale":{"domain":[0,100]},"axis":null}},"layer":[
{"data":{"name":"pts"},"transform":[{"filter":"datum.p==10&&datum.k=='c'"}],"mark":{"type":"point","shape":"square","filled":true,"size":11,"opacity":1,"color":"#30c4d0"}},
{"data":{"name":"pts"},"transform":[{"filter":"datum.p==10&&datum.k=='w'"}],"mark":{"type":"point","shape":"square","filled":true,"size":11,"opacity":1,"color":"#eef2f4"}},
{"data":{"name":"cr"},"transform":[{"filter":"datum.p==10"}],"mark":{"type":"point","shape":"M-1,0H1M0,-1V1","filled":false,"size":110,"strokeWidth":1,"opacity":1,"color":"#9aaab8"}}]},
{"width":106,"height":100,"title":"PCD 1 and 12","view":{"fill":{"gradient":"linear","x1":0,"y1":0,"x2":0,"y2":1,"stops":[{"offset":0,"color":"#16567a"},{"offset":1,"color":"#061c2a"}]},"stroke":"#8e9ca6"},"encoding":{"x":{"field":"x","type":"quantitative","scale":{"domain":[0,100]},"axis":null},"y":{"field":"y","type":"quantitative","scale":{"domain":[0,100]},"axis":null}},"layer":[
{"data":{"name":"pts"},"transform":[{"filter":"datum.p==11&&datum.k=='c'"}],"mark":{"type":"point","shape":"square","filled":true,"size":11,"opacity":1,"color":"#c8dc28"}},
{"data":{"name":"pts"},"transform":[{"filter":"datum.p==11&&datum.k=='w'"}],"mark":{"type":"point","shape":"square","filled":true,"size":11,"opacity":1,"color":"#eef2f4"}},
{"data":{"name":"cr"},"transform":[{"filter":"datum.p==11"}],"mark":{"type":"point","shape":"M-1,0H1M0,-1V1","filled":false,"size":110,"strokeWidth":1,"opacity":1,"color":"#9aaab8"}}]}
],"spacing":31}
],"spacing":2,"center":true}
],"spacing":10,"center":true
}
